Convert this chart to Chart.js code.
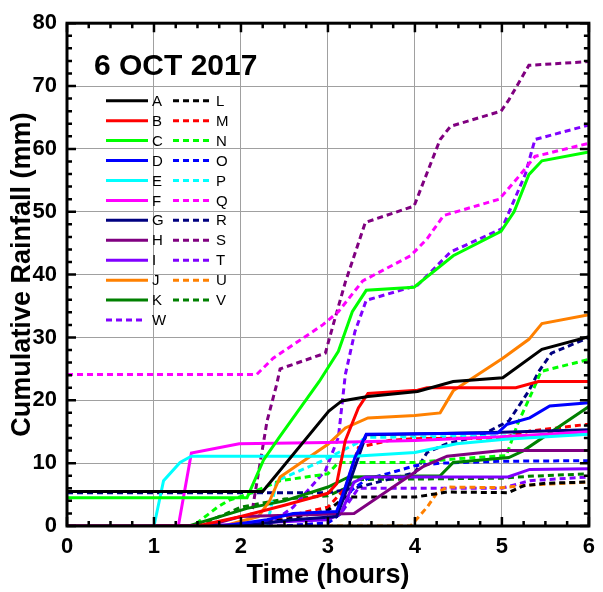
<!DOCTYPE html>
<html>
<head>
<meta charset="utf-8">
<script src="https://cdn.jsdelivr.net/npm/chart.js@4.4.1/dist/chart.umd.min.js"></script>
<style>
  html, body { margin: 0; padding: 0; background: #ffffff; }
  #wrap { width: 603px; height: 592px; position: relative; }
</style>
</head>
<body>
<div id="wrap"><canvas id="c" width="603" height="592"></canvas></div>
<script>
// Cumulative rainfall (mm) against time (hours) for each gauge, 6 Oct 2017.
// Each gauge is a list of [hour, mm] readings.
const xTicks = [0, 1, 2, 3, 4, 5, 6];
const yTicks = [0, 10, 20, 30, 40, 50, 60, 70, 80];

const gaugeA = [[0,5.5],[2.25,5.5],[3.01,18.3],[3.16,19.9],[3.46,20.6],[4.03,21.4],[4.44,23.0],[5.01,23.6],[5.46,28.1],[6,30.1]];
const gaugeB = [[0,0],[1.5,0],[2.0,1.5],[2.5,3.3],[3.0,5.2],[3.1,6.7],[3.2,13.6],[3.35,18.8],[3.46,21.1],[4.03,21.6],[4.14,22],[5.16,22],[5.42,23],[6,23]];
const gaugeC = [[0,4.5],[2.07,4.5],[2.26,10.5],[2.45,14.3],[2.9,23],[3.12,27.8],[3.28,34.1],[3.44,37.5],[3.99,38],[4.44,43],[4.99,46.9],[5.14,50],[5.31,55.9],[5.46,58.1],[6,59.5]];
const gaugeD = [[0,0],[1.8,0],[2.3,1],[2.6,2],[3.1,2.3],[3.2,6.2],[3.31,10.9],[3.44,14.6],[4.95,14.8],[5.06,16.2],[5.32,17.2],[5.55,19.1],[6,19.6]];
const gaugeE = [[0,0],[1.0,0],[1.11,7.2],[1.3,10.1],[1.43,11.1],[3.3,11.1],[4.0,11.7],[4.48,13.1],[5.04,13.8],[6,14.6]];
const gaugeF = [[0,0],[1.28,0],[1.43,11.6],[1.98,13.1],[3.0,13.3],[4.0,13.6],[5.0,14.2],[6,15]];
const gaugeG = [[0,0],[2.0,0],[2.6,1],[3.1,1.5],[3.25,7],[3.44,14.5],[5.0,14.9],[6,15.3]];
const gaugeH = [[0,0],[1.6,0],[2.0,1.5],[3.3,2],[4.1,9.5],[4.37,11.1],[5.0,12],[6,12]];
const gaugeI = [[0,0],[1.6,0],[2.2,0.5],[3.0,1],[3.15,2],[3.3,7],[3.43,7.8],[5.07,7.8],[5.32,9],[6,9.1]];
const gaugeJ = [[0,0],[1.8,0],[2.2,1.5],[2.33,4],[2.45,7.8],[3.0,13],[3.2,15.6],[3.46,17.2],[4.0,17.6],[4.29,18],[4.44,21.5],[5.01,26.7],[5.31,29.7],[5.46,32.2],[6,33.6]];
const gaugeK = [[0,0],[1.4,0],[2.07,2.8],[2.5,4],[3.0,6.2],[3.24,7.8],[4.29,8],[4.44,10.1],[5.08,10.9],[5.25,12],[6,19]];
const gaugeL = [[0,0],[1.8,0],[2.5,1],[3.0,2.5],[3.2,4.6],[4.0,4.6],[4.37,5.4],[5.07,5.3],[5.25,6.4],[5.5,6.8],[6,7]];
const gaugeM = [[0,0],[2.0,0],[2.5,1.5],[3.0,3],[3.2,6],[3.35,12.5],[3.7,13.6],[4.0,13.9],[5.0,14],[5.32,15.1],[6,16.2]];
const gaugeN = [[0,0],[1.45,0],[1.73,3],[1.86,4.1],[2.07,5],[2.45,7.2],[3.0,8.3],[3.12,10.1],[4.0,10.1],[4.48,10.7],[5.05,11.2],[5.18,16.2],[5.37,22],[5.45,24.6],[6,26.5]];
const gaugeO = [[0,0],[2.5,0],[3.0,0.5],[3.15,2],[3.27,5.7],[3.45,7.5],[3.73,8.5],[4.0,9.6],[4.3,10],[5.0,10.3],[6,10.4]];
const gaugeP = [[0,0],[2.3,0],[2.41,7.2],[2.86,9.9],[2.98,10.7],[3.35,13.3],[3.44,14.1],[5.0,14.3],[6,14.6]];
const gaugeQ = [[0,24.1],[2.18,24.1],[2.37,26.7],[2.94,32],[3.12,34.1],[3.4,39],[3.95,43],[4.14,45.7],[4.33,49.4],[4.97,52],[5.2,55.7],[5.38,58.8],[6,60.9]];
const gaugeR = [[0,5.3],[3.0,5.3],[3.3,6],[4.0,8.5],[4.14,11.7],[4.37,13.1],[4.74,14.3],[5.08,16.7],[5.31,21.5],[5.42,24.5],[5.57,27.5],[6,30]];
const gaugeS = [[0,0],[2.1,0],[2.3,16.7],[2.41,22.5],[2.45,25],[2.97,27.5],[3.05,31.5],[3.2,38.8],[3.43,48.3],[3.99,50.9],[4.29,61.5],[4.41,63.6],[4.99,66],[5.08,67.8],[5.31,73.3],[6,73.9]];
const gaugeT = [[0,0],[2.3,0],[2.6,3],[2.97,8.8],[3.12,14.1],[3.2,24.1],[3.31,30.9],[3.44,35.9],[4.03,38.3],[4.41,43.6],[5.0,47.3],[5.27,56],[5.38,61.5],[6,63.8]];
const gaugeU = [[0,0],[3.95,0],[4.14,3],[4.25,5.2],[4.37,6.2],[5.0,6.1],[5.3,6.5],[6,7]];
const gaugeV = [[0,0],[1.5,0],[2.0,3],[2.5,4.3],[3.0,4.8],[3.2,6],[3.35,7.4],[5.0,7.6],[5.3,7.9],[6,8.3]];
const gaugeW = [[0,0],[2.5,0],[3.0,0.5],[3.15,2],[3.35,6],[5.0,6],[5.32,7.2],[6,7.8]];

const gaugeNames = ['A','B','C','D','E','F','G','H','I','J','K','L','M','N','O','P','Q','R','S','T','U','V','W'];
const gaugeData = [gaugeA,gaugeB,gaugeC,gaugeD,gaugeE,gaugeF,gaugeG,gaugeH,gaugeI,gaugeJ,gaugeK,
                   gaugeL,gaugeM,gaugeN,gaugeO,gaugeP,gaugeQ,gaugeR,gaugeS,gaugeT,gaugeU,gaugeV,gaugeW];
// A-K are solid, L-V repeat the same colours dashed, W is dashed violet.
const solidColors = ['#000000','#ff0000','#00ff00','#0000ff','#00ffff','#ff00ff','#000080','#800080','#8000ff','#ff8000','#008000'];
const dashedColors = ['#000000','#ff0000','#00ff00','#0000ff','#00ffff','#ff00ff','#000080','#800080','#8000ff','#ff8000','#008000','#8000ff'];

const FONT = "'Liberation Sans', Arial, sans-serif";
const DASH = [6, 4];

const datasets = gaugeNames.map((name, i) => {
  const dashed = i >= 11;
  const color = dashed ? dashedColors[i - 11] : solidColors[i];
  return {
    label: name,
    data: gaugeData[i].map(p => ({ x: p[0], y: p[1] })),
    borderColor: color,
    backgroundColor: color,
    borderWidth: 3,
    borderDash: dashed ? DASH : [],
    pointRadius: 0,
    tension: 0,
    fill: false
  };
});

// Frame, inward tick marks on all four sides, the date label and the two-column key.
const framePlugin = {
  id: 'frame',
  afterDatasetsDraw(chart) {
    const { ctx, chartArea: a, scales: { x, y } } = chart;
    ctx.save();
    ctx.strokeStyle = '#000';
    ctx.lineCap = 'butt';
    ctx.lineWidth = 2.5;
    for (let v = 0; v <= 6.0001; v += 0.25) {
      const px = x.getPixelForValue(v);
      const major = Math.abs(v - Math.round(v)) < 1e-6;
      const len = major ? 9 : 5;
      ctx.beginPath();
      ctx.moveTo(px, a.bottom); ctx.lineTo(px, a.bottom - len);
      ctx.moveTo(px, a.top); ctx.lineTo(px, a.top + len);
      ctx.stroke();
    }
    for (let v = 0; v <= 80.0001; v += 2) {
      const py = y.getPixelForValue(v);
      const major = v % 10 === 0;
      const len = major ? 9 : 5;
      ctx.beginPath();
      ctx.moveTo(a.left, py); ctx.lineTo(a.left + len, py);
      ctx.moveTo(a.right, py); ctx.lineTo(a.right - len, py);
      ctx.stroke();
    }
    ctx.lineWidth = 3;
    ctx.strokeRect(a.left, a.top, a.right - a.left, a.bottom - a.top);
    ctx.restore();
  },
  afterDraw(chart) {
    const { ctx } = chart;
    ctx.save();
    ctx.fillStyle = '#000';
    ctx.font = 'bold 30px ' + FONT;
    ctx.textBaseline = 'alphabetic';
    ctx.textAlign = 'left';
    ctx.fillText('6 OCT 2017', 94, 75);
    const rowTop = 100.7, rowStep = 19.94;
    ctx.font = '15px ' + FONT;
    ctx.textBaseline = 'middle';
    ctx.lineWidth = 3;
    for (let r = 0; r < 11; r++) {
      const yy = rowTop + r * rowStep;
      ctx.setLineDash([]);
      ctx.strokeStyle = solidColors[r];
      ctx.beginPath(); ctx.moveTo(106, yy); ctx.lineTo(148, yy); ctx.stroke();
      ctx.fillText(gaugeNames[r], 152, yy + 1);
      ctx.setLineDash(DASH);
      ctx.strokeStyle = dashedColors[r];
      ctx.beginPath(); ctx.moveTo(173, yy); ctx.lineTo(212, yy); ctx.stroke();
      ctx.fillText(gaugeNames[r + 11], 216, yy + 1);
    }
    const yw = rowTop + 11 * rowStep;
    ctx.setLineDash(DASH);
    ctx.strokeStyle = dashedColors[11];
    ctx.beginPath(); ctx.moveTo(106, yw); ctx.lineTo(143, yw); ctx.stroke();
    ctx.fillText(gaugeNames[22], 152, yw + 1);
    ctx.restore();
  }
};

new Chart(document.getElementById('c'), {
  type: 'line',
  data: { datasets },
  plugins: [framePlugin],
  options: {
    responsive: false,
    animation: false,
    layout: { padding: { left: 6, right: 5, top: 19, bottom: 0 } },
    plugins: { legend: { display: false }, tooltip: { enabled: false } },
    scales: {
      x: {
        type: 'linear', min: 0, max: 6,
        afterBuildTicks: s => { s.ticks = xTicks.map(v => ({ value: v })); },
        afterFit: s => { s.height = 66; },
        ticks: { color: '#000', font: { family: FONT, size: 22, weight: 'bold' }, padding: 8, maxRotation: 0 },
        grid: { color: '#a0a0a0', lineWidth: 1, drawTicks: false },
        border: { display: false },
        title: { display: true, text: 'Time (hours)', color: '#000', font: { family: FONT, size: 27, weight: 'bold' }, padding: { top: 0, bottom: 0 } }
      },
      y: {
        type: 'linear', min: 0, max: 80,
        afterBuildTicks: s => { s.ticks = yTicks.map(v => ({ value: v })); },
        afterFit: s => { s.width = 61; },
        ticks: { color: '#000', font: { family: FONT, size: 22, weight: 'bold' }, padding: 10 },
        grid: { color: '#a0a0a0', lineWidth: 1, drawTicks: false },
        border: { display: false },
        title: { display: true, text: 'Cumulative Rainfall (mm)', color: '#000', font: { family: FONT, size: 27, weight: 'bold' }, padding: { top: 0, bottom: 0 } }
      }
    }
  }
});
</script>
</body>
</html>
